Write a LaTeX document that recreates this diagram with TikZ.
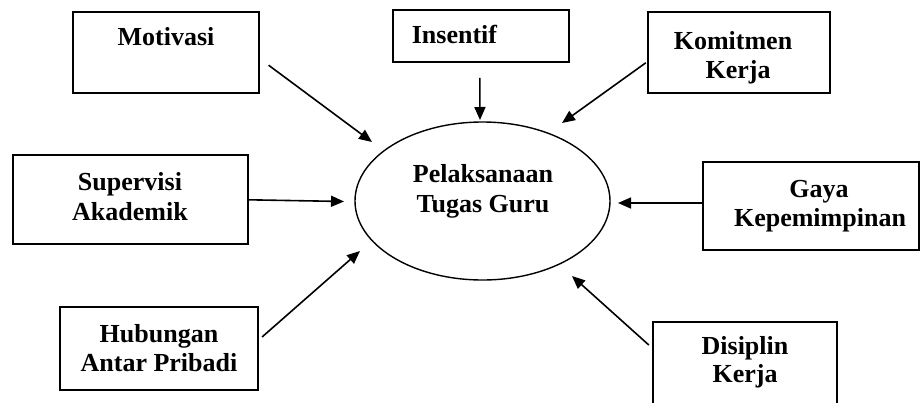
\documentclass[tikz,border=0pt]{standalone}
\usepackage{fontspec}
\setmainfont{Liberation Serif}
\usetikzlibrary{arrows.meta,shapes.geometric,calc}
\begin{document}
\begin{tikzpicture}[x=1pt,y=-1pt,
  boxnode/.style={draw, line width=1.8pt, inner sep=0pt, rectangle},
  txt/.style={font=\fontsize{26}{29}\selectfont\bfseries, inner sep=0pt, anchor=base},
  arr/.style={line width=1.6pt, -{Triangle[length=13pt,width=11pt]}}]
\useasboundingbox (0,0) rectangle (924,402);
% boxes
\node[boxnode, minimum width=186pt, minimum height=81pt] (mot) at (165.7,52.2) {};
\node[boxnode, minimum width=175.7pt, minimum height=52pt] (ins) at (480.8,36) {};
\node[boxnode, minimum width=182.6pt, minimum height=81pt] (kom) at (739,52.8) {};
\node[boxnode, minimum width=235pt, minimum height=88.7pt] (sup) at (130.2,199.3) {};
\node[boxnode, minimum width=216pt, minimum height=88.3pt] (gay) at (811,205.8) {};
\node[boxnode, minimum width=197.7pt, minimum height=83pt] (hub) at (158.8,348.5) {};
\node[boxnode, minimum width=184pt, minimum height=90pt] (dis) at (744.7,366.7) {};
% ellipse
\node[draw, line width=1.4pt, ellipse, minimum width=255pt, minimum height=158pt, inner sep=0pt] (ell) at (482.5,201) {};
% texts
\node[txt] (tmot) at (166,45) {Motivasi};
\node[txt] (tins) at (454.5,43.5) {Insentif};
\node[txt] (tkom1) at (733,49) {Komitmen};
\node[txt] (tkom2) at (738,78) {Kerja};
\node[txt] (tsup1) at (130,190.7) {Supervisi};
\node[txt] (tsup2) at (130,220) {Akademik};
\node[txt] (tell1) at (483,182) {Pelaksanaan};
\node[txt] (tell2) at (483,212) {Tugas Guru};
\node[txt] (tgay1) at (819,197.7) {Gaya};
\node[txt] (tgay2) at (820,226.7) {Kepemimpinan};
\node[txt] (thub1) at (159,342) {Hubungan};
\node[txt] (thub2) at (159,371) {Antar Pribadi};
\node[txt] (tdis1) at (745,354.5) {Disiplin};
\node[txt] (tdis2) at (745,382) {Kerja};
% arrow tips near the ellipse
\coordinate (emot) at (372,142);
\coordinate (eins) at (480,120);
\coordinate (ekom) at (562,123);
\coordinate (esup) at (344,201.5);
\coordinate (egay) at (618,203);
\coordinate (ehub) at (360,251);
\coordinate (edis) at (572,276);
% connectors
\draw[arr] ($(mot.east)+(9,13)$) -- (emot);
\draw[arr] ($(ins.south)+(-1,15)$) -- (eins);
\draw[arr] ($(kom.west)+(-1,10)$) -- (ekom);
\draw[arr] ($(sup.east)+(0,0.5)$) -- (esup);
\draw[arr] ($(gay.west)+(0,-2.8)$) -- (egay);
\draw[arr] ($(hub.east)+(3.5,-11.5)$) -- (ehub);
\draw[arr] ($(dis.west)+(-3,-21.7)$) -- (edis);
\end{tikzpicture}
\end{document}
